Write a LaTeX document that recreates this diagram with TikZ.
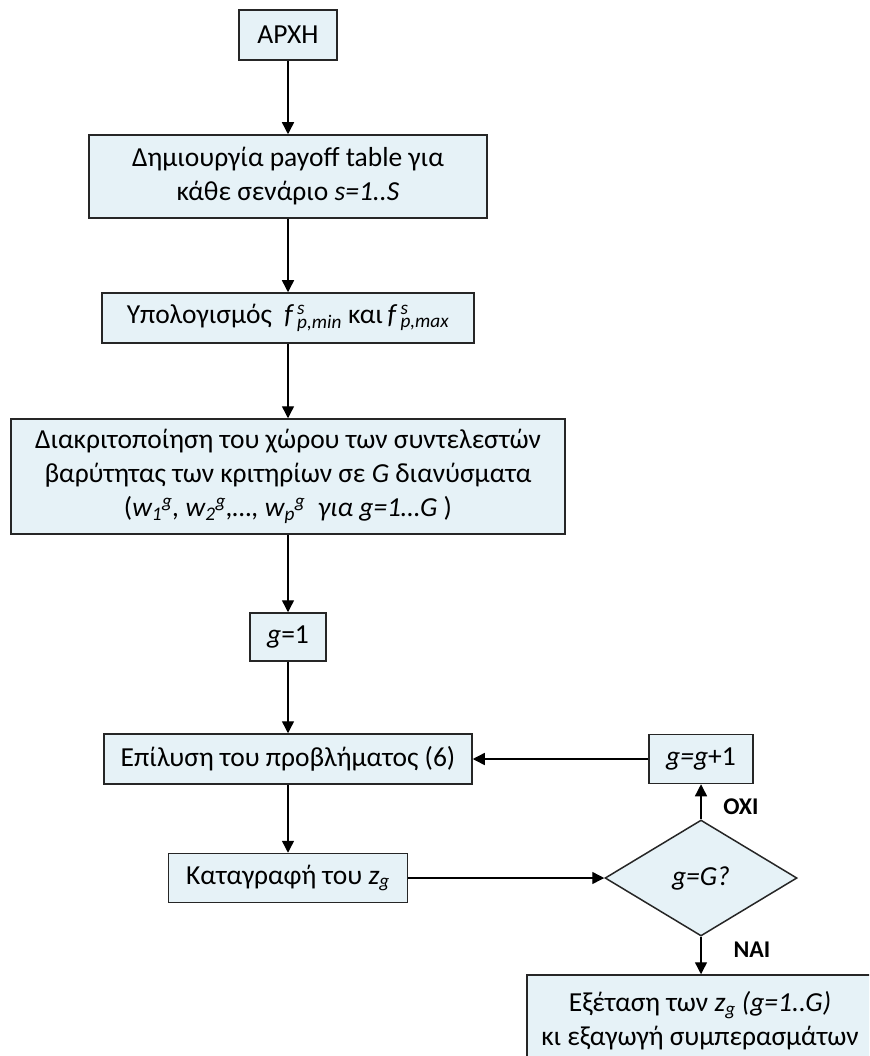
\documentclass[tikz,border=0pt]{standalone}
\usepackage{fontspec}
\setmainfont{Carlito}
\usetikzlibrary{shapes.geometric,arrows.meta}
\definecolor{boxfill}{HTML}{E6F2F7}
\newcommand{\mysupsub}[2]{\rlap{\textsuperscript{#1}}\textsubscript{#2}}
\begin{document}
\begin{tikzpicture}[x=1pt,y=-1pt,
  box/.style={draw=black!85, line width=1.5pt, fill=boxfill, inner sep=0pt,
    align=center, font=\fontsize{27.5}{34}\selectfont},
  dbox/.style={box, diamond, shape aspect=1.65},
  arr/.style={line width=1.4pt, -{Triangle[length=12pt,width=12pt]}},
  lbl/.style={font=\fontsize{24}{28}\selectfont\bfseries}]
\useasboundingbox (0,0) rectangle (869,1056);
\clip (0,0) rectangle (869,1056);

\node[box, minimum width=98pt, minimum height=50pt] (start) at (288,35) {ΑΡΧΗ};
\node[box, minimum width=398pt, minimum height=83pt] (create) at (288,176.5)
  {Δημιουργία payoff table για\\κάθε σενάριο \textit{s=1..S}};
\node[box, minimum width=372pt, minimum height=50pt] (compute) at (288,318)
  {Υπολογισμός\ \ \textit{f\,\mysupsub{s}{p,min}} και\,\textit{f\,\mysupsub{s}{p,max}}};
\node[box, minimum width=554pt, minimum height=115pt] (discr) at (288,476.5)
  {Διακριτοποίηση του χώρου των συντελεστών\\
   βαρύτητας των κριτηρίων σε \textit{G} διανύσματα\\
   (\textit{w\textsubscript{1}\textsuperscript{g}, w\textsubscript{2}\textsuperscript{g},…, w\textsubscript{p}\textsuperscript{g}\ \ για g=1…G} )};
\node[box, minimum width=76pt, minimum height=48pt] (g1) at (288,637) {\textit{g}=1};
\node[box, minimum width=368pt, minimum height=50pt] (solve) at (288,759)
  {Επίλυση του προβλήματος (6)};
\node[box, minimum width=104pt, minimum height=49pt] (inc) at (701,759)
  {\textit{g=g}+1};
\node[box, minimum width=239pt, minimum height=49pt] (record) at (288,878)
  {Καταγραφή του \textit{z\textsubscript{g}}};
\node[dbox, minimum width=192pt, minimum height=116pt] (dec) at (701,878)
  {\textit{g=G?}};
\node[box, minimum width=346pt, minimum height=92pt] (final) at (700,1021)
  {Εξέταση των \textit{z\textsubscript{g} (g=1..G)}\\κι εξαγωγή συμπερασμάτων};

\draw[arr] (start) -- (create);
\draw[arr] (create) -- (compute);
\draw[arr] (compute) -- (discr);
\draw[arr] (discr) -- (g1);
\draw[arr] (g1) -- (solve);
\draw[arr] (solve) -- (record);
\draw[arr] (record.east) -- (dec.west);
\draw[arr] (dec.north) -- (inc.south);
\draw[arr] (inc.west) -- (solve.east);
\draw[arr] (dec.south) -- (final.north -| dec.south);

\node[lbl] (oxi) at (741,807) {ΟΧΙ};
\node[lbl] (nai) at (752,950) {ΝΑΙ};
\end{tikzpicture}
\end{document}
